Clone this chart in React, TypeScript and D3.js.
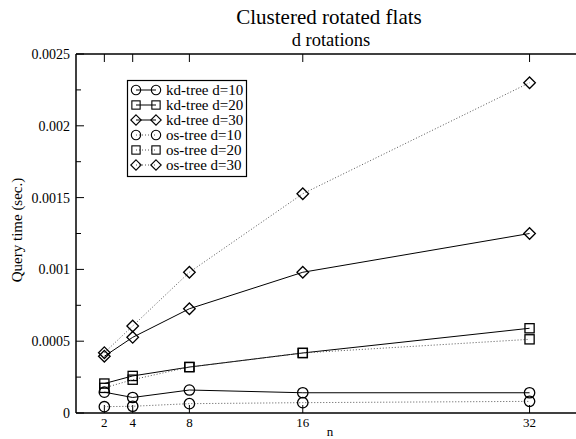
import React, { useEffect, useRef } from "react";
import * as d3 from "d3";

// n values (x axis)
const nValues = [2, 4, 8, 16, 32];

// query times (sec.)
const kdD10 = [0.000145, 0.000108, 0.00016, 0.000141, 0.000141];
const kdD20 = [0.000205, 0.000258, 0.00032, 0.000418, 0.00059];
const kdD30 = [0.000395, 0.000527, 0.000726, 0.00098, 0.00125];
const osD10 = [0.000044, 0.000047, 0.000065, 0.000072, 0.000081];
const osD20 = [0.000175, 0.000232, 0.00032, 0.000418, 0.000513];
const osD30 = [0.00042, 0.000606, 0.00098, 0.001527, 0.0023];

const seriesNames = [
  "kd-tree d=10",
  "kd-tree d=20",
  "kd-tree d=30",
  "os-tree d=10",
  "os-tree d=20",
  "os-tree d=30",
];

const yTicks = [0, 0.0005, 0.001, 0.0015, 0.002, 0.0025];
const yTickLabels = ["0", "0.0005", "0.001", "0.0015", "0.002", "0.0025"];

const App = () => {
  const ref = useRef<SVGSVGElement>(null);

  useEffect(() => {
    const width = 576;
    const height = 439;
    const left = 76;
    const right = 582;
    const top = 54;
    const bottom = 413;
    const font = "'Liberation Serif', 'Times New Roman', serif";

    const svg = d3.select(ref.current);
    svg.selectAll("*").remove();
    svg.attr("height", height);

    const x = d3.scaleLinear().domain([0, 35.7]).range([left, right]);
    const y = d3.scaleLinear().domain([0, 0.0025]).range([bottom, top]);

    const series = [
      { name: seriesNames[0], values: kdD10, shape: "circle", dotted: false },
      { name: seriesNames[1], values: kdD20, shape: "square", dotted: false },
      { name: seriesNames[2], values: kdD30, shape: "diamond", dotted: false },
      { name: seriesNames[3], values: osD10, shape: "circle", dotted: true },
      { name: seriesNames[4], values: osD20, shape: "square", dotted: true },
      { name: seriesNames[5], values: osD30, shape: "diamond", dotted: true },
    ];

    // Frame lines (bottom, top, left) - the right edge runs off the page
    const frame = svg.append("g").attr("stroke", "#000").attr("stroke-width", 1.5);
    frame.append("line").attr("x1", left).attr("x2", width).attr("y1", bottom).attr("y2", bottom);
    frame.append("line").attr("x1", left).attr("x2", width).attr("y1", top).attr("y2", top);
    frame.append("line").attr("x1", left).attr("x2", left).attr("y1", top).attr("y2", bottom);

    // x ticks, bottom and top, pointing inward
    const ticks = svg.append("g").attr("stroke", "#000").attr("stroke-width", 1);
    nValues.forEach((n) => {
      ticks.append("line").attr("x1", x(n)).attr("x2", x(n)).attr("y1", bottom).attr("y2", bottom - 8);
      ticks.append("line").attr("x1", x(n)).attr("x2", x(n)).attr("y1", top).attr("y2", top + 8);
    });

    // y ticks with minor ticks
    d3.range(0, 11).forEach((i) => {
      const v = i * 0.00025;
      const len = i % 2 === 0 ? 8 : 5;
      ticks.append("line").attr("x1", left).attr("x2", left + len).attr("y1", y(v)).attr("y2", y(v));
    });

    // tick labels
    svg
      .append("g")
      .selectAll("text")
      .data(nValues)
      .join("text")
      .attr("x", (d) => x(d))
      .attr("y", 427)
      .attr("text-anchor", "middle")
      .attr("font-family", font)
      .attr("font-size", 13)
      .text((d) => String(d));

    svg
      .append("g")
      .selectAll("text")
      .data(yTicks)
      .join("text")
      .attr("x", 70)
      .attr("y", (d) => y(d) + 5)
      .attr("text-anchor", "end")
      .attr("font-family", font)
      .attr("font-size", 14)
      .text((d, i) => yTickLabels[i]);

    // axis titles
    svg
      .append("text")
      .attr("x", 330)
      .attr("y", 436)
      .attr("text-anchor", "middle")
      .attr("font-family", font)
      .attr("font-size", 13)
      .text("n");

    svg
      .append("text")
      .attr("transform", `translate(22,230) rotate(-90)`)
      .attr("text-anchor", "middle")
      .attr("font-family", font)
      .attr("font-size", 15)
      .text("Query time (sec.)");

    // titles
    svg
      .append("text")
      .attr("x", 329)
      .attr("y", 24)
      .attr("text-anchor", "middle")
      .attr("font-family", font)
      .attr("font-size", 21)
      .text("Clustered rotated flats");

    svg
      .append("text")
      .attr("x", 331)
      .attr("y", 46)
      .attr("text-anchor", "middle")
      .attr("font-family", font)
      .attr("font-size", 18.5)
      .text("d rotations");

    const drawMarker = (g: any, shape: string, cx: number, cy: number, k: number) => {
      if (shape === "circle") {
        g.append("circle").attr("cx", cx).attr("cy", cy).attr("r", 5.2 * k);
      } else if (shape === "square") {
        const h = 4.6 * k;
        g.append("rect").attr("x", cx - h).attr("y", cy - h).attr("width", 2 * h).attr("height", 2 * h);
      } else {
        const s = 5.8 * k;
        g.append("path").attr("d", `M${cx},${cy - s}L${cx + s},${cy}L${cx},${cy + s}L${cx - s},${cy}Z`);
      }
    };

    const line = d3
      .line<number>()
      .x((d, i) => x(nValues[i]))
      .y((d) => y(d));

    series.forEach((s) => {
      svg
        .append("path")
        .attr("d", line(s.values))
        .attr("fill", "none")
        .attr("stroke", s.dotted ? "#555" : "#000")
        .attr("stroke-width", 1)
        .attr("stroke-dasharray", s.dotted ? "1,2" : null);
      const g = svg
        .append("g")
        .attr("fill", "none")
        .attr("stroke", "#000")
        .attr("stroke-width", 1.3);
      s.values.forEach((v, i) => drawMarker(g, s.shape, x(nValues[i]), y(v), 1));
    });

    // legend
    const legend = svg.append("g");
    legend
      .append("rect")
      .attr("x", 127.5)
      .attr("y", 80.5)
      .attr("width", 119)
      .attr("height", 96)
      .attr("fill", "#fff")
      .attr("stroke", "#000")
      .attr("stroke-width", 1.2);

    series.forEach((s, i) => {
      const ly = 90 + i * 15;
      legend
        .append("line")
        .attr("x1", 136)
        .attr("x2", 156)
        .attr("y1", ly)
        .attr("y2", ly)
        .attr("stroke", s.dotted ? "#555" : "#000")
        .attr("stroke-width", 1)
        .attr("stroke-dasharray", s.dotted ? "1,2" : null);
      const g = legend.append("g").attr("fill", "none").attr("stroke", "#000").attr("stroke-width", 1.1);
      drawMarker(g, s.shape, 136, ly, 0.9);
      drawMarker(g, s.shape, 156, ly, 0.9);
      legend
        .append("text")
        .attr("x", 166)
        .attr("y", ly + 5)
        .attr("font-family", font)
        .attr("font-size", 15)
        .text(s.name);
    });
  }, []);

  return <svg ref={ref} width={576} height={439} style={{ position: "absolute", left: 0, top: 0, background: "#fff" }} />;
};

export default App;
